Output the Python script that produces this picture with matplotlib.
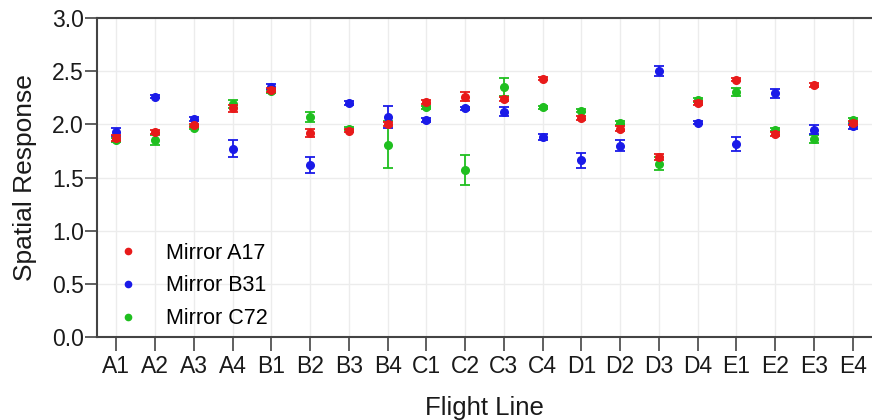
import matplotlib
matplotlib.use("Agg")
import matplotlib.pyplot as plt
from matplotlib.lines import Line2D
import numpy as np

plt.rcParams['font.family'] = ['Liberation Sans', 'DejaVu Sans']

flight_lines = ["A1", "A2", "A3", "A4", "B1", "B2", "B3", "B4", "C1", "C2",
                "C3", "C4", "D1", "D2", "D3", "D4", "E1", "E2", "E3", "E4"]

series_names = ["Mirror A17", "Mirror B31", "Mirror C72"]

a17_mean = [1.87, 1.93, 1.99, 2.15, 2.32, 1.92, 1.94, 2.00, 2.21, 2.26,
            2.24, 2.43, 2.06, 1.96, 1.69, 2.20, 2.42, 1.91, 2.37, 2.01]
a17_err = [0.03, 0.02, 0.015, 0.03, 0.02, 0.04, 0.015, 0.02, 0.015, 0.045,
           0.02, 0.015, 0.015, 0.02, 0.03, 0.015, 0.015, 0.02, 0.015, 0.02]

b31_mean = [1.93, 2.26, 2.05, 1.77, 2.355, 1.62, 2.20, 2.07, 2.04, 2.15,
            2.12, 1.88, 1.66, 1.80, 2.50, 2.015, 1.815, 2.29, 1.95, 1.98]
b31_err = [0.04, 0.015, 0.015, 0.08, 0.02, 0.075, 0.015, 0.10, 0.015, 0.015,
           0.04, 0.03, 0.07, 0.05, 0.05, 0.015, 0.065, 0.04, 0.04, 0.02]

c72_mean = [1.85, 1.85, 1.97, 2.19, 2.31, 2.07, 1.96, 1.81, 2.16, 1.57,
            2.35, 2.16, 2.13, 2.015, 1.63, 2.23, 2.305, 1.95, 1.86, 2.04]
c72_err = [0.02, 0.045, 0.015, 0.04, 0.015, 0.05, 0.015, 0.22, 0.015, 0.14,
           0.085, 0.015, 0.015, 0.02, 0.06, 0.02, 0.04, 0.015, 0.035, 0.02]

colors = ["#e81a1a", "#1a1ae8", "#1fbf1f"]

fig = plt.figure(figsize=(8.72, 4.20), dpi=100)
ax = fig.add_axes([97 / 872, 83 / 420, 775 / 872, 319 / 420])

x = np.arange(len(flight_lines))
data = [(a17_mean, a17_err), (b31_mean, b31_err), (c72_mean, c72_err)]
zorders = [5, 4, 3]
for (mean, err), col, z in zip(data, colors, zorders):
    ax.errorbar(x, mean, yerr=err, fmt="o", color=col, ecolor=col,
                markersize=5.5, elinewidth=1.3, capsize=3.5, capthick=1.3,
                zorder=z)

ax.set_xlim(-0.5, 19.5)
ax.set_ylim(0, 3.0)
ax.set_yticks(np.arange(0, 3.01, 0.5))
ax.set_yticklabels([f"{v:.1f}" for v in np.arange(0, 3.01, 0.5)])
ax.set_xticks(x)
ax.set_xticklabels(flight_lines)

ax.grid(True, color="#ececec", linewidth=1.0, zorder=0)
ax.set_axisbelow(True)

spine_col = "#444444"
for side in ["left", "bottom", "top"]:
    ax.spines[side].set_color(spine_col)
    ax.spines[side].set_linewidth(1.5)
ax.spines["right"].set_visible(False)

ax.tick_params(axis="y", length=8.5, width=1.2, color=spine_col,
               labelsize=16.5, labelcolor="#1a1a1a", pad=1)
ax.tick_params(axis="x", length=10, width=1.2, color=spine_col,
               labelsize=16.5, labelcolor="#1a1a1a", pad=3)

ax.set_xlabel("Flight Line", fontsize=18.5, color="#1a1a1a", labelpad=13)
ax.set_ylabel("Spatial Response", fontsize=19, color="#1a1a1a", labelpad=11)

handles = [Line2D([], [], marker="o", linestyle="none", color=c, markersize=4.5)
           for c in colors]
ax.legend(handles, series_names, loc="lower left",
          bbox_to_anchor=(0.009, -0.016),
          frameon=False, fontsize=15.5, handlelength=1.0, handletextpad=1.3,
          labelspacing=0.55, borderaxespad=0.2)

fig.savefig("out.png", dpi=100)
